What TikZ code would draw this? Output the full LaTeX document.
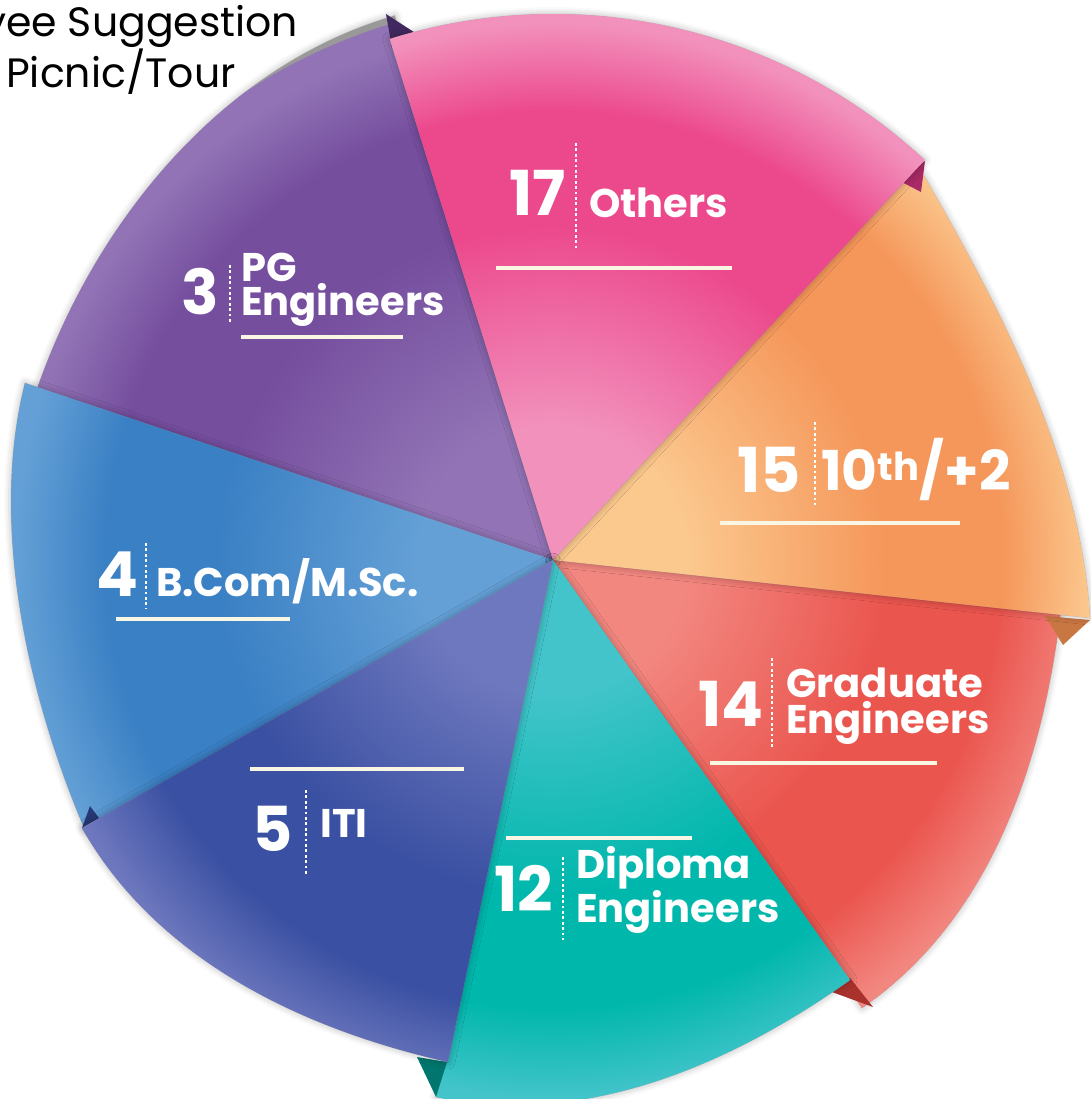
\documentclass[tikz,border=0pt]{standalone}
\usepackage{fontspec}
\setmainfont{Poppins}
\usetikzlibrary{shadows.blur}

\definecolor{pinkD}{RGB}{236,72,140}
\definecolor{pinkL}{RGB}{242,145,188}
\definecolor{pinkF}{RGB}{168,42,102}
\definecolor{orangeD}{RGB}{245,150,90}
\definecolor{orangeL}{RGB}{251,200,142}
\definecolor{orangeF}{RGB}{200,118,66}
\definecolor{redD}{RGB}{234,85,78}
\definecolor{redL}{RGB}{242,135,128}
\definecolor{redF}{RGB}{170,50,45}
\definecolor{tealD}{RGB}{0,183,172}
\definecolor{tealL}{RGB}{66,196,202}
\definecolor{tealF}{RGB}{0,118,110}
\definecolor{indigoD}{RGB}{58,80,162}
\definecolor{indigoL}{RGB}{110,120,190}
\definecolor{blueD}{RGB}{58,128,196}
\definecolor{blueL}{RGB}{100,160,214}
\definecolor{blueF}{RGB}{38,56,118}
\definecolor{purpleD}{RGB}{117,78,158}
\definecolor{purpleL}{RGB}{146,116,182}
\definecolor{purpleF}{RGB}{66,40,96}
\definecolor{linecream}{RGB}{250,246,228}

% ring shading, light near the centre and at the rim
\newcommand\ringshading[3]{\pgfdeclareradialshading{#1}{\pgfpointorigin}{color(0bp)=(#3); color(6bp)=(#3); color(15bp)=(#2); color(20bp)=(#2); color(24bp)=(#3); color(50bp)=(#3)}}
\ringshading{pinkring}{pinkD}{pinkL}
\ringshading{orangering}{orangeD}{orangeL}
\ringshading{redring}{redD}{redL}
\ringshading{tealring}{tealD}{tealL}
\ringshading{indigoring}{indigoD}{indigoL}
\ringshading{bluering}{blueD}{blueL}
\ringshading{purplering}{purpleD}{purpleL}

\tikzset{
  slice shadow/.style={fill=black!40, blur shadow={shadow xshift=0pt, shadow yshift=0pt, shadow blur radius=7pt, shadow opacity=30}},
  num/.style={text=white, inner sep=0pt, font=\fontsize{62}{62}\selectfont\bfseries},
  lbl/.style={text=white, inner sep=0pt, align=left, font=\fontsize{40}{36}\selectfont\bfseries},
  sep/.style={white, line width=1.4pt, dash pattern=on 2.8pt off 2.6pt},
  uline/.style={linecream, line width=3.2pt},
  note/.style={text=black, inner sep=0pt, font=\fontsize{41}{41}\selectfont}
}

% one slice: shadow, then ring shading clipped to the slice
\newcommand\pieslice[2]{%
  \path[slice shadow] #2;
  \begin{scope}\clip #2; \shade[shading=#1] (C) circle[radius=560]; \end{scope}}

\begin{document}
\begin{tikzpicture}[x=1pt,y=1pt,yscale=-1]
\useasboundingbox (0,0) rectangle (1090,1099);
\coordinate (C) at (553,560);

%Shape: purple slice
\pieslice{purplering}{(C) -- (36,392) .. controls (95,220) and (224,65) .. (394.8,15.5) -- cycle}
\fill[purpleF] (386,14) -- (392,48) -- (420,36) -- cycle;
%Shape: blue slice
\pieslice{bluering}{(C) -- (85,830) .. controls (25,690) and (-10,520) .. (25,383) -- cycle}
\fill[blueF] (82,828) -- (90,806) -- (102,822) -- cycle;
%Shape: red slice
\pieslice{redring}{(C) -- (1062,600) .. controls (1044.4,762.6) and (990.7,918.9) .. (862,1008) -- cycle}
\fill[redF] (832,992) -- (873,1007) -- (850,978) -- cycle;
%Shape: orange slice
\fill[orangeF] (1045,616) -- (1090,620) -- (1063,645) -- cycle;
\pieslice{orangering}{(C) -- (915,160) .. controls (990,290) and (1080,450) .. (1090,618) -- cycle}
%Shape: pink slice
\fill[pinkF] (925,161) -- (921,192) -- (898,180) -- cycle;
\pieslice{pinkring}{(C) -- (389.7,39) .. controls (576.8,-19.6) and (781.1,26.5) .. (924.7,160) -- cycle}
%Shape: teal slice
\pieslice{tealring}{(C) -- (850,980) .. controls (729,1065.7) and (583,1128.1) .. (436,1097) -- cycle}
\fill[tealF] (417,1057) -- (436,1097) -- (447,1062) -- cycle;
%Shape: indigo slice
\pieslice{indigoring}{(C) -- (448,1062) .. controls (297.7,1028.1) and (155.5,957.4) .. (82,828) -- cycle}

%Straight Lines: separators
\draw[sep] (576,143) -- (576,248);
\draw[sep] (815,422) -- (815,505);
\draw[sep] (772,658) -- (772,747);
\draw[sep] (563,857) -- (563,940);
\draw[sep] (306,790) -- (306,875);
\draw[sep] (146,543) -- (146,609);
\draw[sep] (230,265) -- (230,322);
%Straight Lines: underlines
\draw[uline] (496,268) -- (732,268);
\draw[uline] (720,523) -- (960,523);
\draw[uline] (710,763) -- (937,763);
\draw[uline] (506,838) -- (692,838);
\draw[uline] (250,769) -- (464,769);
\draw[uline] (116,619) -- (290,619);
\draw[uline] (241,337) -- (403,337);

% Text Node
\node[num, anchor=base east] (n17) at (566,216) {17};
\node[lbl, anchor=base west] (others) at (589,218) {Others};
% Text Node
\node[num, anchor=base east] (n15) at (801,492) {15};
\node[lbl, anchor=base west, font=\fontsize{55}{55}\selectfont\bfseries] (tenth) at (821,490) {10\textsuperscript{th}/+2};
% Text Node
\node[num, anchor=base east] (n14) at (764,726) {14};
\node[lbl, anchor=base west] (grad) at (786,733) {Graduate\\Engineers};
% Text Node
\node[num, anchor=base east] (n12) at (553,911) {12};
\node[lbl, anchor=base west, font=\fontsize{40}{37}\selectfont\bfseries] (dipl) at (576,922) {Diploma\\Engineers};
% Text Node
\node[num, anchor=base east] (n5) at (293,851) {5};
\node[lbl, anchor=base west] (iti) at (320,837) {ITI};
% Text Node
\node[num, anchor=base east] (n4) at (139,596) {4};
\node[lbl, anchor=base west] (bcom) at (156,596) {B.Com/M.Sc.};
% Text Node
\node[num, anchor=base east] (n3) at (219,314) {3};
\node[lbl, anchor=base west, font=\fontsize{40}{28}\selectfont\bfseries] (pg) at (241,315) {PG\\Engineers};
% Text Node
\node[note, anchor=base west] (sugg) at (6,37) {\llap{y}ee Suggestion};
\node[note, anchor=base west] (tour) at (6,88) {Picnic/Tour};
\end{tikzpicture}
\end{document}
